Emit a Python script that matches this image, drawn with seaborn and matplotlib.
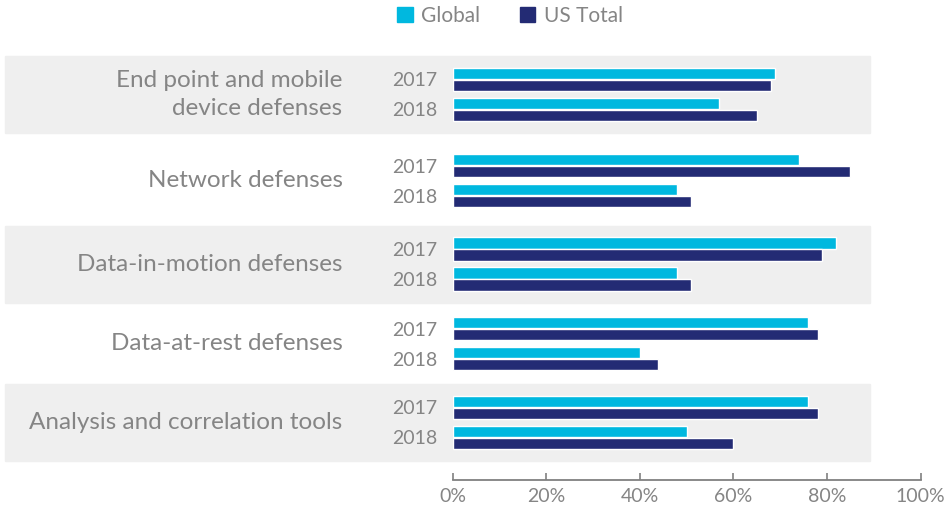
import matplotlib.pyplot as plt
import matplotlib.patches as mpatches
import pandas as pd
import seaborn as sns

categories = [
    "End point and mobile\ndevice defenses",
    "Network defenses",
    "Data-in-motion defenses",
    "Data-at-rest defenses",
    "Analysis and correlation tools",
]
years = ["2017", "2018"]
regions = ["Global", "US Total"]
global_2017 = [69, 74, 82, 76, 76]
global_2018 = [57, 48, 48, 40, 50]
us_2017 = [68, 85, 79, 78, 78]
us_2018 = [65, 51, 51, 44, 60]
x_ticks = [0, 20, 40, 60, 80, 100]

colors = {"Global": "#00B8DF", "US Total": "#232B74"}
text_color = "#858585"
band_color = "#EFEFEF"

rows = []
for i, cat in enumerate(categories):
    rows.append((cat, "2017", "Global", global_2017[i]))
    rows.append((cat, "2017", "US Total", us_2017[i]))
    rows.append((cat, "2018", "Global", global_2018[i]))
    rows.append((cat, "2018", "US Total", us_2018[i]))
df = pd.DataFrame(rows, columns=["category", "year", "region", "value"])

sns.set_style("white")
plt.rcParams["font.family"] = ["Lato", "DejaVu Sans"]
plt.rcParams["font.weight"] = "normal"

W, H = 948, 508
fig = plt.figure(figsize=(W / 100, H / 100), dpi=100)

# pixel layout of the category rows (top to bottom)
edges = [51, 138, 223.5, 304.5, 383, 462]
left_px, right_px = 452.5, 920.5
px_per_unit = 30

axes = []
for i, cat in enumerate(categories):
    top, bottom = edges[i], edges[i + 1]
    h = bottom - top
    ax = fig.add_axes([left_px / W, 1 - bottom / H, (right_px - left_px) / W, h / H])
    ax.set_facecolor("none")
    sub = df[df["category"] == cat]
    sns.barplot(data=sub, x="value", y="year", hue="region", order=years,
                hue_order=regions, palette=colors, orient="h", width=0.8,
                gap=0.06, saturation=1, errorbar=None, legend=False, ax=ax)
    span = h / px_per_unit
    ax.set_ylim(0.5 + span / 2, 0.5 - span / 2)
    ax.set_xlim(0, 100)
    ax.set_xlabel("")
    ax.set_ylabel("")
    for s in ax.spines.values():
        s.set_visible(False)
    ax.tick_params(axis="y", length=0, pad=11, labelsize=14, labelcolor=text_color)
    ax.set_xticks([])
    ax.annotate(cat, xy=(0, 0.5), xycoords="axes fraction", xytext=(-110, 0),
                textcoords="offset pixels", ha="right", va="center",
                multialignment="right", fontsize=17.5, color=text_color,
                linespacing=1.4)
    if i % 2 == 0:
        band_top = (top + bottom) / 2 - 38.5
        rect = mpatches.Rectangle((5 / W, 1 - (band_top + 77) / H), 865 / W, 77 / H,
                                  transform=fig.transFigure, color=band_color,
                                  zorder=-5)
        fig.add_artist(rect)
    axes.append(ax)

last = axes[-1]
last.spines["bottom"].set_visible(True)
last.spines["bottom"].set_position(("outward", 13))
last.spines["bottom"].set_color("#808080")
last.spines["bottom"].set_linewidth(1.3)
last.set_xticks(x_ticks)
last.set_xticklabels([f"{t}%" for t in x_ticks])
last.tick_params(axis="x", bottom=True, direction="in", length=5, width=1.2,
                 color="#808080", labelsize=14, labelcolor=text_color, pad=6)

handles = [mpatches.Patch(color=colors[r], label=r) for r in regions]
fig.legend(handles=handles, loc="center", bbox_to_anchor=(510 / W, 1 - 16 / H),
           ncol=2, frameon=False, fontsize=15, handlelength=0.75, handleheight=0.75,
           handletextpad=0.4, columnspacing=1.9, labelcolor=text_color)

fig.savefig("out.png", dpi=100)
